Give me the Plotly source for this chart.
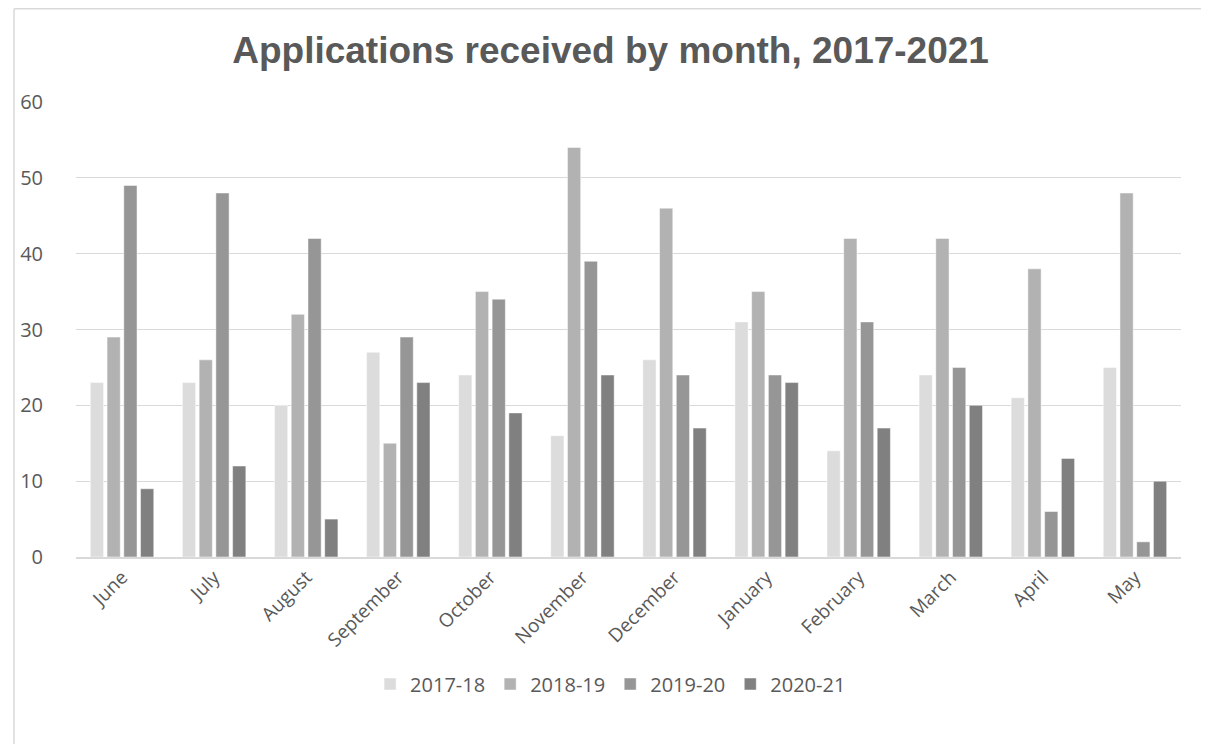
import plotly.graph_objects as go

months = ["June", "July", "August", "September", "October", "November",
          "December", "January", "February", "March", "April", "May"]
series_names = ["2017-18", "2018-19", "2019-20", "2020-21"]
v_2017_18 = [23, 23, 20, 27, 24, 16, 26, 31, 14, 24, 21, 25]
v_2018_19 = [29, 26, 32, 15, 35, 54, 46, 35, 42, 42, 38, 48]
v_2019_20 = [49, 48, 42, 29, 34, 39, 24, 24, 31, 25, 6, 2]
v_2020_21 = [9, 12, 5, 23, 19, 24, 17, 23, 17, 20, 13, 10]
colors = ["#DCDCDC", "#B2B2B2", "#969696", "#808080"]

# page body has an 8px margin, so figure coords = page coords - 8
W, H = 1209, 744
L, R, T, B = 63, 36, 94, 195
pw, ph = W - L - R, H - T - B

fig = go.Figure()
for name, vals, c in zip(series_names, [v_2017_18, v_2018_19, v_2019_20, v_2020_21], colors):
    fig.add_trace(go.Bar(x=months, y=vals, name=name,
                         marker=dict(color=c, line=dict(color="rgba(255,255,255,0.6)", width=0.8))))

def px_x(p):
    return (p - L) / pw

def px_y(p):
    return (H - B - p) / ph

fig.add_shape(type="line", xref="paper", yref="paper",
              x0=px_x(0.75), x1=px_x(1230), y0=px_y(0.75), y1=px_y(0.75),
              line=dict(color="#D9D9D9", width=1.5))
fig.add_shape(type="line", xref="paper", yref="paper",
              x0=px_x(0.75), x1=px_x(0.75), y0=px_y(0.75), y1=px_y(760),
              line=dict(color="#D9D9D9", width=1.5))

fig.update_layout(
    width=W, height=H,
    margin=dict(l=L, r=R, t=T, b=B),
    paper_bgcolor="white", plot_bgcolor="white",
    font=dict(family="Open Sans", color="#595959", size=19),
    title=dict(text="<b>Applications received by month, 2017-2021</b>",
               x=px_x(600), xanchor="center", xref="paper", y=1 - 42 / H, yanchor="middle",
               font=dict(family="Liberation Sans", size=37, color="#595959")),
    barmode="group", bargap=0.273, bargroupgap=0.21,
    showlegend=True,
    legend=dict(orientation="h", x=px_x(600), xanchor="center", y=px_y(676), yanchor="middle",
                font=dict(size=20, color="#595959"), itemwidth=30, traceorder="normal"),
    xaxis=dict(tickangle=-45, showgrid=False, showline=True, linecolor="#D9D9D9", linewidth=1.5,
               ticks="", tickfont=dict(size=19, color="#595959")),
    yaxis=dict(range=[0, 60], dtick=10, showgrid=True, gridcolor="#D9D9D9", gridwidth=1.2,
               zeroline=False, showline=False, ticks="", ticklabelstandoff=32,
               tickfont=dict(size=20, color="#595959")),
)

fig.write_html("out.html")
